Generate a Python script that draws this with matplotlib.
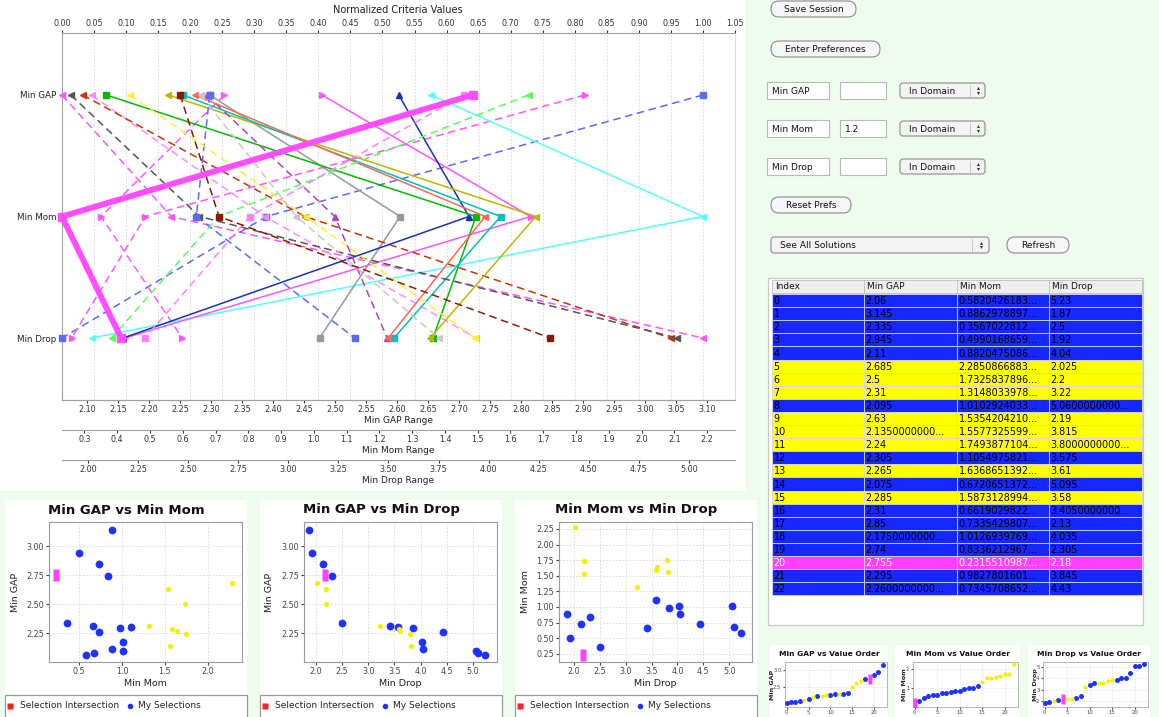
import numpy as np
import matplotlib
matplotlib.use('Agg')
import matplotlib.pyplot as plt
from matplotlib.patches import Rectangle, FancyBboxPatch

plt.rcParams['font.family'] = ['DejaVu Sans']

# ---------------- data ----------------
criteria = ['Min GAP', 'Min Mom', 'Min Drop']
gap = [2.06, 3.145, 2.335, 2.945, 2.11, 2.685, 2.5, 2.31, 2.095, 2.63, 2.135, 2.24,
       2.305, 2.265, 2.075, 2.285, 2.31, 2.85, 2.175, 2.74, 2.755, 2.295, 2.26]
mom = [0.5820426183, 0.8862978897, 0.3567022812, 0.4990168659, 0.8820475086, 2.2850866883,
       1.7325837896, 1.3148033978, 1.0102924033, 1.5354204210, 1.5577325599, 1.7493877104,
       1.1054975821, 1.6368651392, 0.6720651372, 1.5873128994, 0.6619029822, 0.7335429807,
       1.0126939769, 0.8336212967, 0.2315510987, 0.9827801601, 0.7345708652]
drop = [5.23, 1.87, 2.5, 1.92, 4.04, 2.025, 2.2, 3.22, 5.06, 2.19, 3.815, 3.8,
        3.575, 3.61, 5.095, 3.58, 3.405, 2.13, 4.035, 2.305, 2.18, 3.845, 4.43]
pref_rows = [5, 6, 7, 9, 10, 11, 13, 15]      # yellow rows (Min Mom > 1.2)
intersection_rows = [20]                     # magenta row
gap_long = [10, 18, 22]                      # values shown truncated in table
drop_long = [8, 11, 16]
table_headers = ['Index', 'Min GAP', 'Min Mom', 'Min Drop']

gap_ticks = np.round(np.arange(2.10, 3.1001, 0.05), 2)
mom_ticks = np.round(np.arange(0.3, 2.2001, 0.1), 1)
drop_ticks = np.round(np.arange(2.0, 5.0001, 0.25), 2)
norm_ticks = np.round(np.arange(0, 1.0501, 0.05), 2)

# --------------- styles ---------------
line_colors = ['#ff55ff', '#5a6aff', '#ff55ff', '#ff55ff', '#ff8cff', '#55ffff', '#ff55ff',
               '#999999', '#cc3300', '#1a2fbf', '#00bb00', '#c0b400', '#b040c8', '#00c0c0',
               '#555555', '#ff6655', '#5a6aff', '#55ff55', '#ffee33', '#ff80ff', '#ff4dff',
               '#c8c8c8', '#8b1a00']
line_dashed = [True, True, True, True, True, False, False, False, True, False, False, False,
               True, False, True, False, True, True, True, True, False, True, True]
line_markers = ['<', 's', '>', '>', '<', '<', '>', 's', '<', '^', 's', '<', '^', 's', '<',
                '<', 's', '<', '<', 's', 's', '<', 's']

W, H = 1159, 717
BG = '#f0fbf0'
BLUE_T = '#1428ff'
YEL = '#ffff00'
PINK = '#ff40ff'

fig = plt.figure(figsize=(W / 100, H / 100), dpi=100)
fig.patch.set_facecolor(BG)
bg = fig.add_axes([0, 0, 1, 1])
bg.set_xlim(0, W)
bg.set_ylim(H, 0)
bg.axis('off')


def px_axes(x0, y0, x1, y1):
    return fig.add_axes([x0 / W, 1 - y1 / H, (x1 - x0) / W, (y1 - y0) / H])


n = len(gap)
groups = ['inter' if i in intersection_rows else ('pref' if i in pref_rows else 'sel')
          for i in range(n)]

# ---------------- parallel coordinates chart ----------------
bg.add_patch(Rectangle((0, 0), 746, 491, fc='white', ec='none'))
ax = px_axes(62, 33, 735, 400)
ax.set_facecolor('white')


def normed(v):
    v = np.asarray(v, float)
    return (v - v.min()) / (v.max() - v.min())


ng, nm, nd = normed(gap), normed(mom), normed(drop)
order = [i for i in range(n) if i not in intersection_rows] + intersection_rows
for i in order:
    lw = 4.3 if i in intersection_rows else 1.1
    ls = (0, (5, 3)) if line_dashed[i] else '-'
    ax.plot([ng[i], nm[i], nd[i]], [0, 1, 2], color=line_colors[i], lw=lw, ls=ls,
            marker=line_markers[i], ms=4.5 if lw < 2 else 6, mec=line_colors[i],
            mfc=line_colors[i], clip_on=False, zorder=3)
ax.set_xlim(0, 1.05)
ax.set_ylim(2.51, -0.51)
ax.xaxis.tick_top()
ax.set_xticks(norm_ticks)
ax.set_xticklabels(['%.2f' % t for t in norm_ticks])
ax.tick_params(axis='x', length=2, pad=1.5, labelsize=5.8, colors='#333333')
ax.set_yticks([0, 1, 2])
ax.set_yticklabels(criteria)
ax.tick_params(axis='y', length=0, pad=4, labelsize=6.3, colors='#222222')
ax.grid(axis='x', color='#d6d6d6', ls=(0, (2, 2)), lw=0.6)
for s in ax.spines.values():
    s.set_color('#a0a0a0')
    s.set_linewidth(0.8)
ax.spines['right'].set_color('#dddddd')
bg.text(398, 10, 'Normalized Criteria Values', ha='center', va='center', fontsize=7, color='#222222')


def range_axis(yline, vals, ticks, fmt, label):
    a = px_axes(62, yline - 1, 735, yline)
    a.patch.set_alpha(0)
    a.set_xlim(min(vals), max(vals))
    a.set_yticks([])
    for k in ['top', 'left', 'right']:
        a.spines[k].set_visible(False)
    a.spines['bottom'].set_color('#a0a0a0')
    a.spines['bottom'].set_linewidth(0.8)
    a.set_xticks(ticks)
    a.set_xticklabels([fmt % t for t in ticks])
    a.tick_params(axis='x', length=2, pad=1.5, labelsize=5.8, colors='#333333')
    a.set_xlabel(label, fontsize=6.5, labelpad=1.5, color='#222222')


range_axis(400, gap, gap_ticks, '%.2f', 'Min GAP Range')
range_axis(430, mom, mom_ticks, '%.1f', 'Min Mom Range')
range_axis(460, drop, drop_ticks, '%.2f', 'Min Drop Range')

# ---------------- scatter panels ----------------
scatter_specs = [
    dict(p=5, title='Min GAP vs Min Mom', x=mom, y=gap, xl='Min Mom', yl='Min GAP',
         xlim=(0.15, 2.40), ylim=(2.0, 3.21), xt=[0.5, 1.0, 1.5, 2.0], xf='%.1f',
         yt=[2.25, 2.5, 2.75, 3.0], yf='%.2f'),
    dict(p=260, title='Min GAP vs Min Drop', x=drop, y=gap, xl='Min Drop', yl='Min GAP',
         xlim=(1.77, 5.46), ylim=(2.0, 3.21), xt=np.arange(2.0, 5.01, 0.5), xf='%.1f',
         yt=[2.25, 2.5, 2.75, 3.0], yf='%.2f'),
    dict(p=515, title='Min Mom vs Min Drop', x=drop, y=mom, xl='Min Drop', yl='Min Mom',
         xlim=(1.71, 5.44), ylim=(0.12, 2.36), xt=np.arange(2.0, 5.01, 0.5), xf='%.1f',
         yt=np.arange(0.25, 2.26, 0.25), yf='%.2f'),
]
rect_marker = [(-1, -2), (1, -2), (1, 2), (-1, 2)]
for sp in scatter_specs:
    p = sp['p']
    bg.add_patch(Rectangle((p, 500), 242, 217, fc='white', ec='none'))
    a = px_axes(p + 44, 522, p + 237, 662)
    a.set_facecolor('white')
    xs, ys = np.asarray(sp['x']), np.asarray(sp['y'])
    sel = [i for i in range(n) if groups[i] == 'sel']
    pref = [i for i in range(n) if groups[i] == 'pref']
    inter = [i for i in range(n) if groups[i] == 'inter']
    a.plot(xs[sel], ys[sel], 'o', color='#1e32ff', ms=5.6, mec='none', zorder=3)
    a.plot(xs[pref], ys[pref], 'o', color='#f2f200', ms=3.8, mec='none', zorder=3)
    a.plot(xs[inter], ys[inter], marker=rect_marker, ls='none', color=PINK, ms=8.5,
           mec='none', zorder=4)
    a.set_xlim(*sp['xlim'])
    a.set_ylim(*sp['ylim'])
    a.set_xticks(sp['xt'])
    a.set_xticklabels([sp['xf'] % t for t in sp['xt']])
    a.set_yticks(sp['yt'])
    a.set_yticklabels([sp['yf'] % t for t in sp['yt']])
    a.tick_params(length=2, pad=1.5, labelsize=5.8, colors='#444444')
    a.grid(True, color='#d8d8d8', ls=(0, (2, 2)), lw=0.6)
    a.set_axisbelow(True)
    for s in a.spines.values():
        s.set_color('#9a9a9a')
        s.set_linewidth(0.8)
    bg.text(p + 121, 510, sp['title'], ha='center', va='center', fontsize=9.5,
            fontweight='bold', color='#111111')
    bg.text(p + 140, 684, sp['xl'], ha='center', va='center', fontsize=6.8, color='#222222')
    bg.text(p + 10, 592, sp['yl'], ha='center', va='center', fontsize=6.8, rotation=90,
            color='#222222')
    # legend
    bg.add_patch(Rectangle((p, 695), 242, 30, fc='white', ec='#999999', lw=0.9))
    bg.plot(p + 5, 706, 's', color='#ff2020', ms=3.8, mec='none')
    bg.text(p + 15, 706, 'Selection Intersection', va='center', fontsize=6.5, color='#222222')
    bg.plot(p + 125, 706, 'o', color='#1e32ff', ms=4, mec='none')
    bg.text(p + 133, 706, 'My Selections', va='center', fontsize=6.5, color='#222222')

# ---------------- value order mini panels ----------------
vo_specs = [
    dict(box=(770, 645, 888, 717), frame=(785, 662, 887, 707), title='Min GAP vs Value Order',
         v=gap, yl='Min GAP', ylim=(1.94, 3.23), yt=[2.5, 3.0], yf='%.1f', ylx=773),
    dict(box=(895, 645, 1020, 717), frame=(913, 662, 1018, 707), title='Min Mom vs Value Order',
         v=mom, yl='Min Mom', ylim=(0.02, 2.39), yt=[1, 2], yf='%d', ylx=904),
    dict(box=(1028, 645, 1150, 717), frame=(1043, 662, 1148, 707), title='Min Drop vs Value Order',
         v=drop, yl='Min Drop', ylim=(1.52, 5.40), yt=[2, 3, 4, 5], yf='%d', ylx=1035),
]
for sp in vo_specs:
    bx0, by0, bx1, by1 = sp['box']
    bg.add_patch(Rectangle((bx0, by0), bx1 - bx0, by1 - by0, fc='white', ec='none'))
    fx0, fy0, fx1, fy1 = sp['frame']
    a = px_axes(fx0, fy0, fx1, fy1)
    a.set_facecolor('white')
    v = np.asarray(sp['v'])
    srt = np.argsort(v, kind='stable')
    ranks = np.arange(n)
    for grp, col, ms, mk in [('sel', '#1e32ff', 3.6, 'o'), ('pref', '#f2f200', 3.0, 'o'),
                             ('inter', PINK, 7, rect_marker)]:
        idx = [r for r in ranks if groups[srt[r]] == grp]
        a.plot(idx, v[srt[idx]], marker=mk, ls='none', color=col, ms=ms, mec='none', zorder=3)
    a.set_xlim(-0.4, 23)
    a.set_ylim(*sp['ylim'])
    a.set_xticks([0, 5, 10, 15, 20])
    a.set_yticks(sp['yt'])
    a.set_yticklabels([sp['yf'] % t for t in sp['yt']])
    a.tick_params(length=1.5, pad=1, labelsize=3.8, colors='#444444')
    a.grid(True, color='#dddddd', ls=(0, (2, 2)), lw=0.5)
    a.set_axisbelow(True)
    for s in a.spines.values():
        s.set_color('#aaaaaa')
        s.set_linewidth(0.6)
    bg.text((bx0 + bx1) / 2, 654, sp['title'], ha='center', va='center', fontsize=5.4,
            fontweight='bold', color='#111111')
    bg.text(sp['ylx'], (fy0 + fy1) / 2, sp['yl'], ha='center', va='center', fontsize=4.6,
            rotation=90, fontweight='bold', color='#222222')

# ---------------- GUI controls ----------------


def button(x0, y0, x1, y1, text):
    h = y1 - y0
    bg.add_patch(FancyBboxPatch((x0, y0), x1 - x0, h,
                                boxstyle='round,pad=0,rounding_size=%f' % (h / 2),
                                fc='#f6f6f6', ec='#8a8a8a', lw=0.8))
    bg.text((x0 + x1) / 2, (y0 + y1) / 2 + 0.5, text, ha='center', va='center',
            fontsize=6.5, color='#111111')


def field(x0, y0, x1, y1, text):
    bg.add_patch(Rectangle((x0, y0), x1 - x0, y1 - y0, fc='white', ec='#b8b8b8', lw=0.8))
    if text:
        bg.text(x0 + 5, (y0 + y1) / 2 + 0.5, text, va='center', fontsize=6.5, color='#111111')


def dropdown(x0, y0, x1, y1, text, sep):
    bg.add_patch(FancyBboxPatch((x0, y0), x1 - x0, y1 - y0,
                                boxstyle='round,pad=0,rounding_size=3',
                                fc='#f4f4f4', ec='#8a8a8a', lw=0.8))
    bg.text(x0 + 9, (y0 + y1) / 2 + 0.5, text, va='center', fontsize=6.5, color='#111111')
    bg.plot([sep, sep], [y0 + 2, y1 - 2], color='#c0c0c0', lw=0.6)
    cx = (sep + x1) / 2
    cy = (y0 + y1) / 2
    bg.plot(cx, cy - 2.2, marker='^', ms=2.2, color='#333333', mec='none')
    bg.plot(cx, cy + 2.2, marker='v', ms=2.2, color='#333333', mec='none')


button(771, 1, 856, 17, 'Save Session')
button(771, 41, 880, 57, 'Enter Preferences')
pref_vals = ['', '1.2', '']
for k, (yy, name) in enumerate(zip([82, 120, 158], criteria)):
    field(767, yy, 829, yy + 17, name)
    field(840, yy, 886, yy + 17, pref_vals[k])
    dropdown(900, yy + 1, 985, yy + 16, 'In Domain', 970)
button(771, 197, 851, 213, 'Reset Prefs')
dropdown(771, 237, 989, 253, 'See All Solutions', 972)
button(1007, 237, 1069, 253, 'Refresh')

# ---------------- table ----------------
bg.add_patch(Rectangle((768, 278), 375, 347, fc='white', ec='#c8c8c8', lw=0.9))
cols = [772, 864, 957, 1049, 1142]
bg.add_patch(Rectangle((772, 280), 370, 13, fc='#efefef', ec='#bdbdbd', lw=0.6))
for c in range(4):
    if c > 0:
        bg.plot([cols[c], cols[c]], [280, 293], color='#bdbdbd', lw=0.6)
    bg.text(cols[c] + 3, 286.8, table_headers[c], va='center', fontsize=6.5, color='#111111')


def fmt_val(v, long_flag):
    return ('%.10f...' % v) if long_flag else repr(v)


RH = 13.1
for i in range(n):
    y0 = 294 + i * RH
    fc = {'sel': BLUE_T, 'pref': YEL, 'inter': PINK}[groups[i]]
    tc = 'white' if groups[i] == 'inter' else '#000000'
    cells = [str(i), fmt_val(gap[i], i in gap_long), '%.10f...' % mom[i],
             fmt_val(drop[i], i in drop_long)]
    for c in range(4):
        bg.add_patch(Rectangle((cols[c], y0), cols[c + 1] - cols[c], RH, fc=fc,
                               ec='#d4d4ee', lw=0.6))
        bg.text(cols[c] + 1.5, y0 + RH / 2 + 0.6, cells[c], va='center', fontsize=6.9,
                color=tc)

fig.savefig('out.png', dpi=100, facecolor=fig.get_facecolor())
